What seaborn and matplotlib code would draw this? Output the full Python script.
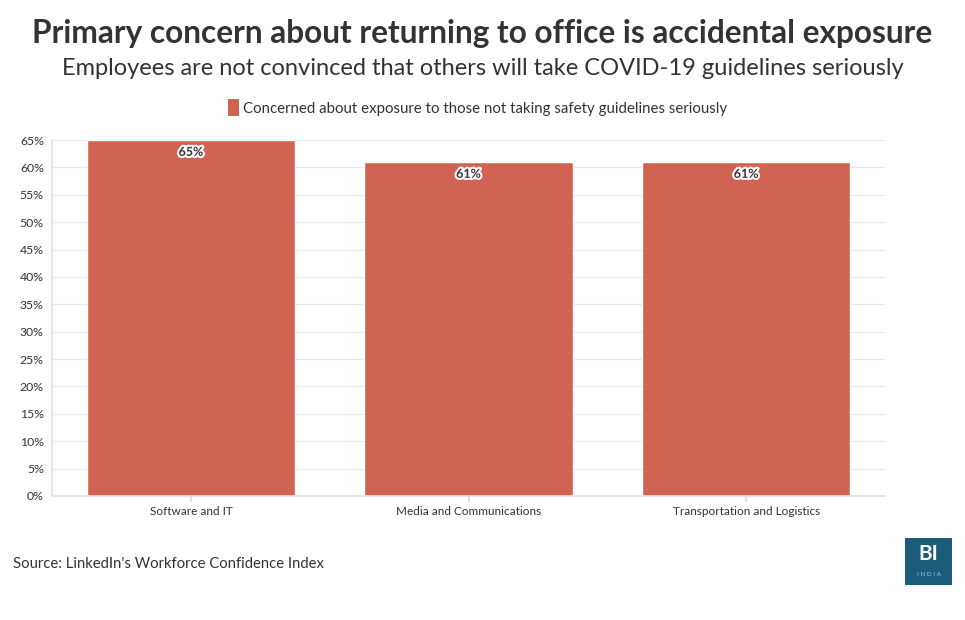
import matplotlib.pyplot as plt
import matplotlib.patheffects as pe
import pandas as pd
import seaborn as sns

# Data
sectors = ["Software and IT", "Media and Communications", "Transportation and Logistics"]
concerned = [65, 61, 61]
series_name = "Concerned about exposure to those not taking safety guidelines seriously"
yticks = list(range(0, 70, 5))

df = pd.DataFrame({"Sector": sectors, "Value": concerned})

sns.set_theme(style="white")
plt.rcParams["font.family"] = ["Lato", "DejaVu Sans"]

bar_color = "#D06351"
text_color = "#333333"

fig = plt.figure(figsize=(9.65, 6.2), dpi=100)
ax = fig.add_axes([0.054, 0.2, 0.863, 0.574])

sns.barplot(data=df, x="Sector", y="Value", color=bar_color, width=0.75,
            saturation=1, ax=ax)

ax.set_ylim(0, 65)
ax.set_xlim(-0.5, 2.5)
ax.set_yticks(yticks)
ax.set_yticklabels([f"{t}%" for t in yticks], fontsize=8.8, color=text_color)
ax.tick_params(axis="x", labelsize=8.5, labelcolor=text_color, length=4,
               color="#dddddd", bottom=True)
ax.tick_params(axis="y", length=0, pad=6)
ax.set_xlabel("")
ax.set_ylabel("")
ax.yaxis.grid(True, color="#e8e8e8", linewidth=0.8)
ax.set_axisbelow(True)
for side in ["top", "right"]:
    ax.spines[side].set_visible(False)
for side in ["left", "bottom"]:
    ax.spines[side].set_color("#e3e3e3")

# Value labels
for i, v in enumerate(concerned):
    ax.annotate(f"{v}%", (i, v), xytext=(0, -8.5), textcoords="offset points",
                ha="center", va="center", fontsize=9, fontweight="bold",
                color=text_color,
                path_effects=[pe.withStroke(linewidth=3, foreground="white")])

# Titles
fig.text(0.5, 0.946, "Primary concern about returning to office is accidental exposure",
         ha="center", va="center", fontsize=22.8, fontweight="bold", color=text_color)
fig.text(0.5, 0.890, "Employees are not convinced that others will take COVID-19 guidelines seriously",
         ha="center", va="center", fontsize=17, color=text_color)

# Legend
fig.patches.append(plt.Rectangle((0.2365, 0.813), 0.0115, 0.027, transform=fig.transFigure,
                                 facecolor=bar_color, edgecolor="none"))
fig.text(0.252, 0.825, series_name, ha="left", va="center", fontsize=10.8, color=text_color)

# Source
fig.text(0.013, 0.09, "Source: LinkedIn's Workforce Confidence Index",
         ha="left", va="center", fontsize=10.7, color=text_color)

# Logo
fig.patches.append(plt.Rectangle((0.938, 0.056), 0.049, 0.077, transform=fig.transFigure,
                                 facecolor="#1B5C7A", edgecolor="none"))
fig.text(0.9625, 0.106, "BI", ha="center", va="center", fontsize=15,
         color="white", fontweight="bold")
fig.text(0.9625, 0.073, "I N D I A", ha="center", va="center", fontsize=4.5,
         color="#9fd0e6")

fig.savefig("out.png", dpi=100)
